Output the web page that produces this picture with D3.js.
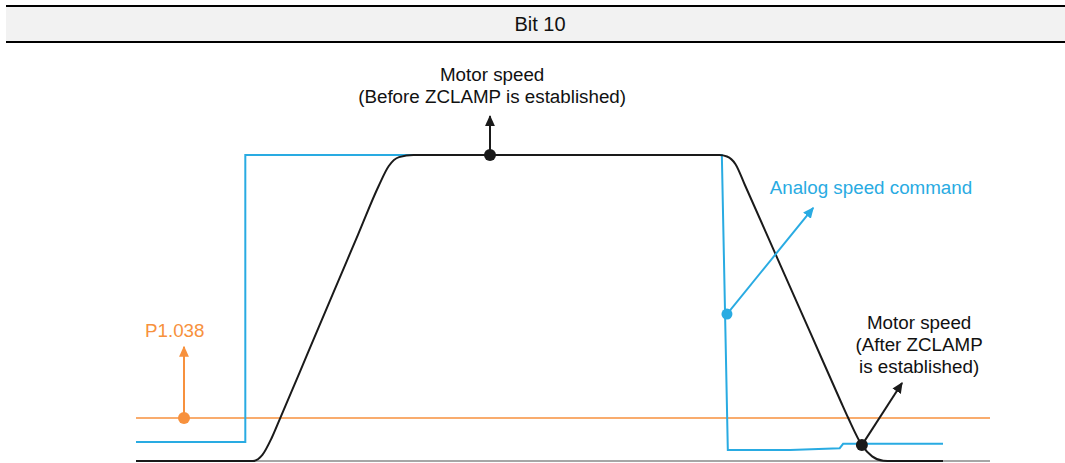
<!DOCTYPE html>
<html>
  <head>
    <meta charset="UTF-8" />
    <script src="https://d3js.org/d3.v7.min.js"></script>
    <title>Bit 10</title>
    <style>
      body { margin: 0; background: #fff; }
      svg text { font-family: "Liberation Sans", Arial, sans-serif; }
    </style>
  </head>
  <body>
    <div id="chart"></div>
    <script type="text/javascript">
      // data: time (0-100) and speed (0-100)
      const cmdTime = [0, 12.8, 12.8, 68.6, 69.3, 76.6, 82.4, 82.8, 94.5];
      const cmdSpeed = [6.2, 6.2, 100, 100, 3.6, 3.6, 4.2, 5.6, 5.6];

      const motorTime = [0, 13.7, 14.8, 15.9, 16.9, 20, 23, 26, 28.4, 29.6, 30.8, 32.5,
                         68.3, 69.2, 70.2, 71.3, 75, 79, 82.5, 83.4, 85.0, 86.2, 87.5, 88.5, 94.5];
      const motorSpeed = [0, 0, 2.0, 7.6, 14.1, 34.5, 54.3, 74.0, 89.8, 96.4, 99.3, 100,
                          100, 99.5, 97.0, 90.2, 66.9, 41.7, 19.6, 14.05, 5.2, 1.5, 0.1, 0, 0];

      const zclampLevel = 14.05; // P1.038
      const timeRange = [0, 100];

      // annotations: dot, arrow tip, text lines
      const notes = [
        { color: "#1a1a1a", x: 41.45, y: 100, tx: 41.45, ty: 112.7, r: 6,
          lx: 41.7, ly: 124.2, anchor: "middle",
          lines: ["Motor speed", "(Before ZCLAMP is established)"] },
        { color: "#f7913d", x: 5.62, y: zclampLevel, tx: 5.62, ty: 37.3, r: 6,
          lx: 1.05, ly: 40.5, anchor: "start", lines: ["P1.038"] },
        { color: "#29abe2", x: 69.2, y: 48.0, tx: 79.3, ty: 82.7, r: 5.5,
          lx: 74.2, ly: 87.3, anchor: "start", lines: ["Analog speed command"] },
        { color: "#1a1a1a", x: 85.0, y: 5.2, tx: 89.7, ty: 25.5, r: 6,
          lx: 91.7, ly: 43.1, anchor: "middle",
          lines: ["Motor speed", "(After ZCLAMP", "is established)"] }
      ];

      const w = 1065, h = 463;
      const svg = d3.select("#chart").append("svg")
        .attr("width", w).attr("height", h);

      // header band
      svg.append("rect").attr("x", 6).attr("y", 7).attr("width", w - 6).attr("height", 34)
        .attr("fill", "#f2f2f2");
      svg.append("line").attr("x1", 6).attr("x2", w).attr("y1", 6).attr("y2", 6)
        .attr("stroke", "#000").attr("stroke-width", 2.2);
      svg.append("line").attr("x1", 6).attr("x2", w).attr("y1", 42).attr("y2", 42)
        .attr("stroke", "#000").attr("stroke-width", 2.2);
      svg.append("text").attr("x", 540).attr("y", 31).attr("text-anchor", "middle")
        .style("font-size", "20px").attr("fill", "#111").text("Bit 10");

      const x = d3.scaleLinear().domain([0, 100]).range([136, 990]);
      const y = d3.scaleLinear().domain([0, 100]).range([461, 155]);

      const defs = svg.append("defs");
      notes.forEach(function (n, i) {
        defs.append("marker")
          .attr("id", "arr" + i)
          .attr("viewBox", "0 0 10 10")
          .attr("refX", 9).attr("refY", 5)
          .attr("markerUnits", "userSpaceOnUse")
          .attr("markerWidth", 11).attr("markerHeight", 11)
          .attr("orient", "auto")
          .append("path").attr("d", "M0,0.5L10,5L0,9.5Z").attr("fill", n.color);
      });

      const line = d3.line().x(d => x(d[0])).y(d => y(d[1]));

      // zero baseline
      svg.append("path")
        .datum(timeRange.map(t => [t, 0]))
        .attr("d", line).attr("fill", "none")
        .attr("stroke", "#888").attr("stroke-width", 1.6);

      // P1.038 level
      svg.append("path")
        .datum(timeRange.map(t => [t, zclampLevel]))
        .attr("d", line).attr("fill", "none")
        .attr("stroke", "#f7913d").attr("stroke-width", 1.5);

      // analog speed command
      svg.append("path")
        .datum(cmdTime.map((t, i) => [t, cmdSpeed[i]]))
        .attr("d", line).attr("fill", "none")
        .attr("stroke", "#29abe2").attr("stroke-width", 2);

      // motor speed
      svg.append("path")
        .datum(motorTime.map((t, i) => [t, motorSpeed[i]]))
        .attr("d", line.curve(d3.curveMonotoneX)).attr("fill", "none")
        .attr("stroke", "#1a1a1a").attr("stroke-width", 2);

      // annotations
      notes.forEach(function (n, i) {
        svg.append("line")
          .attr("x1", x(n.x)).attr("y1", y(n.y))
          .attr("x2", x(n.tx)).attr("y2", y(n.ty))
          .attr("stroke", n.color).attr("stroke-width", 2)
          .attr("marker-end", "url(#arr" + i + ")");
        svg.append("circle")
          .attr("cx", x(n.x)).attr("cy", y(n.y)).attr("r", n.r)
          .attr("fill", n.color);
        const t = svg.append("text")
          .attr("x", x(n.lx)).attr("y", y(n.ly))
          .attr("text-anchor", n.anchor)
          .style("font-size", "18.8px")
          .attr("fill", n.color === "#1a1a1a" ? "#111" : n.color);
        n.lines.forEach(function (s, k) {
          t.append("tspan").attr("x", x(n.lx)).attr("dy", k === 0 ? 0 : 22).text(s);
        });
      });
    </script>
  </body>
</html>
